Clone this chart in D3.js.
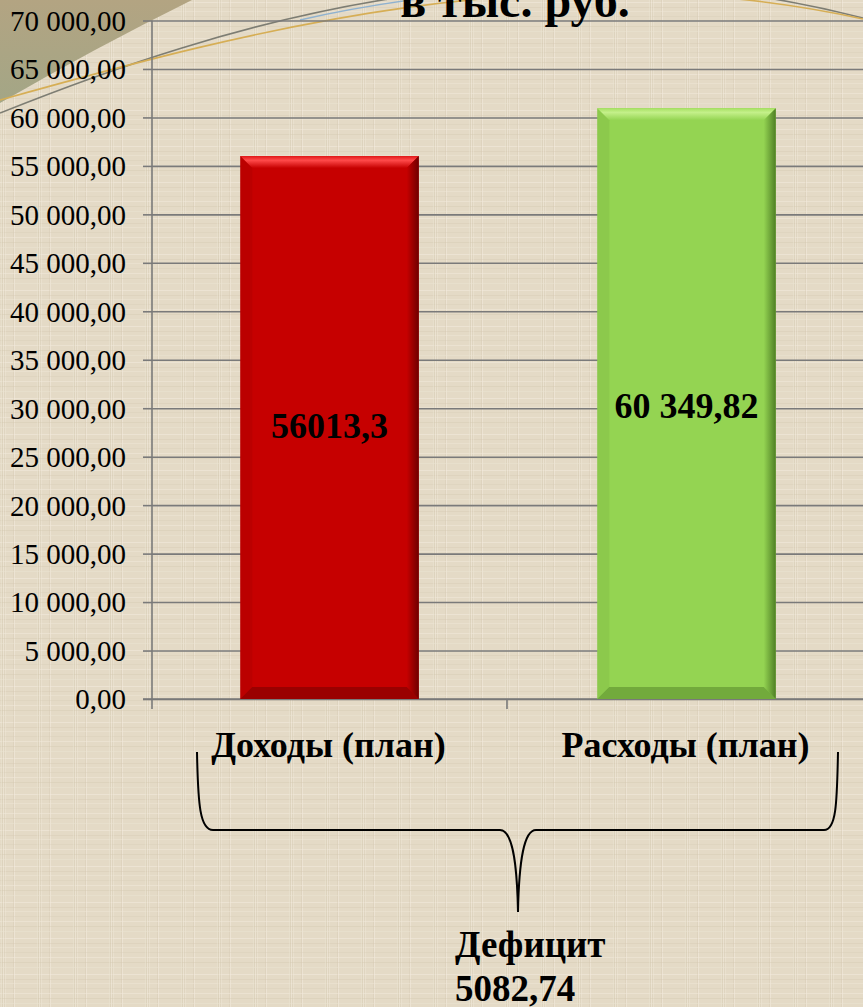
<!DOCTYPE html>
<meta charset="utf-8">
<style>
    body { margin: 0; background: #e4dac6; }
    svg { display: block; }
    .ylab text { font: 29px "Liberation Serif", "Times New Roman", serif; fill: #000; }
    .grid line { stroke: #7a7a7a; stroke-width: 1.6; }
    .grid path { display: none; }
    .bold { font-family: "Liberation Serif", "Times New Roman", serif; font-weight: bold; fill: #000; }
</style>
<svg id="chart" width="863" height="1007"></svg>
<script src="https://cdn.jsdelivr.net/npm/d3@7"></script>
<script>

    // данные
    var categories = ["Доходы (план)", "Расходы (план)"];
    var values = [56013.3, 60950];
    var valueLabels = ["56013,3", "60 349,82"];
    var yTicks = [0, 5000, 10000, 15000, 20000, 25000, 30000, 35000, 40000, 45000, 50000, 55000, 60000, 65000, 70000];
    var deficitLabel = ["Дефицит", "5082,74"];
    var titleText = "в тыс. руб.";

    var svg = d3.select("#chart"),
        W = +svg.attr("width"),
        H = +svg.attr("height");

    var ru = d3.formatLocale({decimal: ",", thousands: " ", grouping: [3], currency: ["", " руб."]});
    var fmt = ru.format(",.2f");

    var y = d3.scaleLinear().domain([0, 70000]).range([699, 20.5]);
    var x = d3.scaleBand().domain(categories).range([151, 865]).padding(0);
    var axisX = 152;

    var defs = svg.append("defs");

    // льняная текстура фона
    var pat = defs.append("pattern")
        .attr("id", "linen")
        .attr("patternUnits", "userSpaceOnUse")
        .attr("width", 36).attr("height", 36);
    pat.append("rect").attr("width", 36).attr("height", 36).attr("fill", "#e4dac6");
    var hl = [[2, "#f3ecdf", 0.5], [7, "#d2c6ae", 0.35], [11, "#efe7d8", 0.45], [16, "#d6cab4", 0.3],
              [21, "#f1eadc", 0.5], [26, "#d0c4ab", 0.35], [31, "#ece4d3", 0.45]];
    hl.forEach(function(d) {
        pat.append("rect").attr("x", 0).attr("y", d[0]).attr("width", 36).attr("height", 1)
            .attr("fill", d[1]).attr("opacity", d[2]);
        pat.append("rect").attr("y", 0).attr("x", (d[0] * 7) % 36).attr("height", 36).attr("width", 1)
            .attr("fill", d[1]).attr("opacity", d[2]);
    });

    svg.append("rect").attr("width", W).attr("height", H).attr("fill", "url(#linen)");

    // уголок слева сверху
    var cg = defs.append("linearGradient").attr("id", "corner")
        .attr("x1", 0).attr("y1", 0).attr("x2", 0).attr("y2", 1);
    cg.append("stop").attr("offset", 0).attr("stop-color", "#b3a482");
    cg.append("stop").attr("offset", 1).attr("stop-color", "#a3a686");
    svg.append("path")
        .attr("d", "M0,0 L192,0 Q95,48 0,103 Z")
        .attr("fill", "url(#corner)");

    // декоративные дуги
    svg.append("path").attr("d", "M0,113 C220,25 520,-70 863,18")
        .attr("fill", "none").attr("stroke", "#7d7d73").attr("stroke-width", 1.6);
    svg.append("path").attr("d", "M0,100 C250,30 550,-50 863,19")
        .attr("fill", "none").attr("stroke", "#d6ae55").attr("stroke-width", 1.6);
    svg.append("path").attr("d", "M300,20 Q360,6 440,-4")
        .attr("fill", "none").attr("stroke", "#8fb2d0").attr("stroke-width", 1.4);

    // сетка
    svg.append("g")
        .attr("class", "grid")
        .attr("transform", "translate(" + axisX + ",0)")
        .call(d3.axisLeft(y).tickValues(yTicks).tickSize(-(W - axisX)).tickFormat(""));

    // ось Y
    var gy = svg.append("g")
        .attr("class", "ylab grid")
        .attr("transform", "translate(" + axisX + ",0)")
        .call(d3.axisLeft(y).tickValues(yTicks).tickSize(9).tickPadding(17).tickFormat(fmt));
    gy.selectAll("text").attr("dy", "0.34em");

    svg.append("line")
        .attr("x1", axisX).attr("x2", axisX).attr("y1", y(70000)).attr("y2", y(0) + 10)
        .attr("stroke", "#7a7a7a").attr("stroke-width", 1.6);

    // ось X
    svg.append("line")
        .attr("x1", 143).attr("x2", W).attr("y1", y(0)).attr("y2", y(0))
        .attr("stroke", "#7a7a7a").attr("stroke-width", 1.6);
    var bounds = [x(categories[0]), x(categories[1]), x(categories[1]) + x.bandwidth()];
    svg.selectAll(".xtick").data(bounds.slice(1)).enter().append("line")
        .attr("x1", function(d) { return d - 1; }).attr("x2", function(d) { return d - 1; })
        .attr("y1", y(0)).attr("y2", y(0) + 10)
        .attr("stroke", "#7a7a7a").attr("stroke-width", 1.6);

    // столбцы с фаской
    var fills = [
        {base: "#c60000", light: "#ff4a4a", mid: "#e01818", dark: "#6e0000", side: "#9a0000"},
        {base: "#94d452", light: "#c4f08a", mid: "#a6e062", dark: "#4f7f25", side: "#72a83c"}
    ];
    var barW = x.bandwidth() * 0.5, bev = 12;

    categories.forEach(function(c, i) {
        var x0 = x(c) + (x.bandwidth() - barW) / 2,
            x1 = x0 + barW,
            y0 = y(values[i]),
            y1 = y(0),
            f = fills[i];

        var tg = defs.append("linearGradient").attr("id", "top" + i)
            .attr("x1", 0).attr("y1", 0).attr("x2", 0).attr("y2", 1);
        tg.append("stop").attr("offset", 0).attr("stop-color", f.mid);
        tg.append("stop").attr("offset", 0.35).attr("stop-color", f.light);
        tg.append("stop").attr("offset", 1).attr("stop-color", f.base);

        var rg = defs.append("linearGradient").attr("id", "right" + i)
            .attr("x1", 0).attr("y1", 0).attr("x2", 1).attr("y2", 0);
        rg.append("stop").attr("offset", 0).attr("stop-color", f.base);
        rg.append("stop").attr("offset", 1).attr("stop-color", f.dark);

        var g = svg.append("g");
        g.append("rect")
            .attr("x", x0).attr("y", y0).attr("width", barW).attr("height", y1 - y0)
            .attr("fill", f.base);
        // верх
        g.append("path")
            .attr("d", "M" + x0 + "," + y0 + "L" + x1 + "," + y0 + "L" + (x1 - bev) + "," + (y0 + bev) +
                "L" + (x0 + bev) + "," + (y0 + bev) + "Z")
            .attr("fill", "url(#top" + i + ")");
        // левый край
        g.append("path")
            .attr("d", "M" + x0 + "," + y0 + "L" + (x0 + bev) + "," + (y0 + bev) + "L" + (x0 + bev) + "," + (y1 - bev) +
                "L" + x0 + "," + y1 + "Z")
            .attr("fill", f.side).attr("opacity", 0.25);
        // правый край
        g.append("path")
            .attr("d", "M" + x1 + "," + y0 + "L" + (x1 - bev) + "," + (y0 + bev) + "L" + (x1 - bev) + "," + (y1 - bev) +
                "L" + x1 + "," + y1 + "Z")
            .attr("fill", "url(#right" + i + ")");
        // низ
        g.append("path")
            .attr("d", "M" + x0 + "," + y1 + "L" + (x0 + bev) + "," + (y1 - bev) + "L" + (x1 - bev) + "," + (y1 - bev) +
                "L" + x1 + "," + y1 + "Z")
            .attr("fill", f.dark).attr("opacity", 0.5);
    });

    // подписи значений
    var labelY = [438, 418];
    svg.selectAll(".vlab").data(valueLabels).enter().append("text")
        .attr("class", "bold")
        .attr("x", function(d, i) { return x(categories[i]) + x.bandwidth() / 2; })
        .attr("y", function(d, i) { return labelY[i]; })
        .attr("text-anchor", "middle")
        .style("font-size", "36px")
        .text(function(d) { return d; });

    // подписи категорий
    svg.selectAll(".clab").data(categories).enter().append("text")
        .attr("class", "bold")
        .attr("x", function(d) { return x(d) + x.bandwidth() / 2 - 1; })
        .attr("y", 757)
        .attr("text-anchor", "middle")
        .style("font-size", "36px")
        .text(function(d) { return d; });

    // заголовок (обрезан сверху)
    svg.append("text")
        .attr("class", "bold")
        .attr("x", 515).attr("y", 17)
        .attr("text-anchor", "middle")
        .style("font-size", "48px")
        .text(titleText);

    // фигурная скобка
    svg.append("path")
        .attr("d", "M197,752 C198,805 200,830 213,830 L500,830 C512,830 517,860 518,912" +
            " C519,860 524,830 536,830 L824,830 C836,830 837,805 838,752")
        .attr("fill", "none").attr("stroke", "#000").attr("stroke-width", 2);

    // дефицит
    svg.selectAll(".dlab").data(deficitLabel).enter().append("text")
        .attr("class", "bold")
        .attr("x", 455)
        .attr("y", function(d, i) { return 957 + i * 44; })
        .style("font-size", "37px")
        .text(function(d) { return d; });

</script>
